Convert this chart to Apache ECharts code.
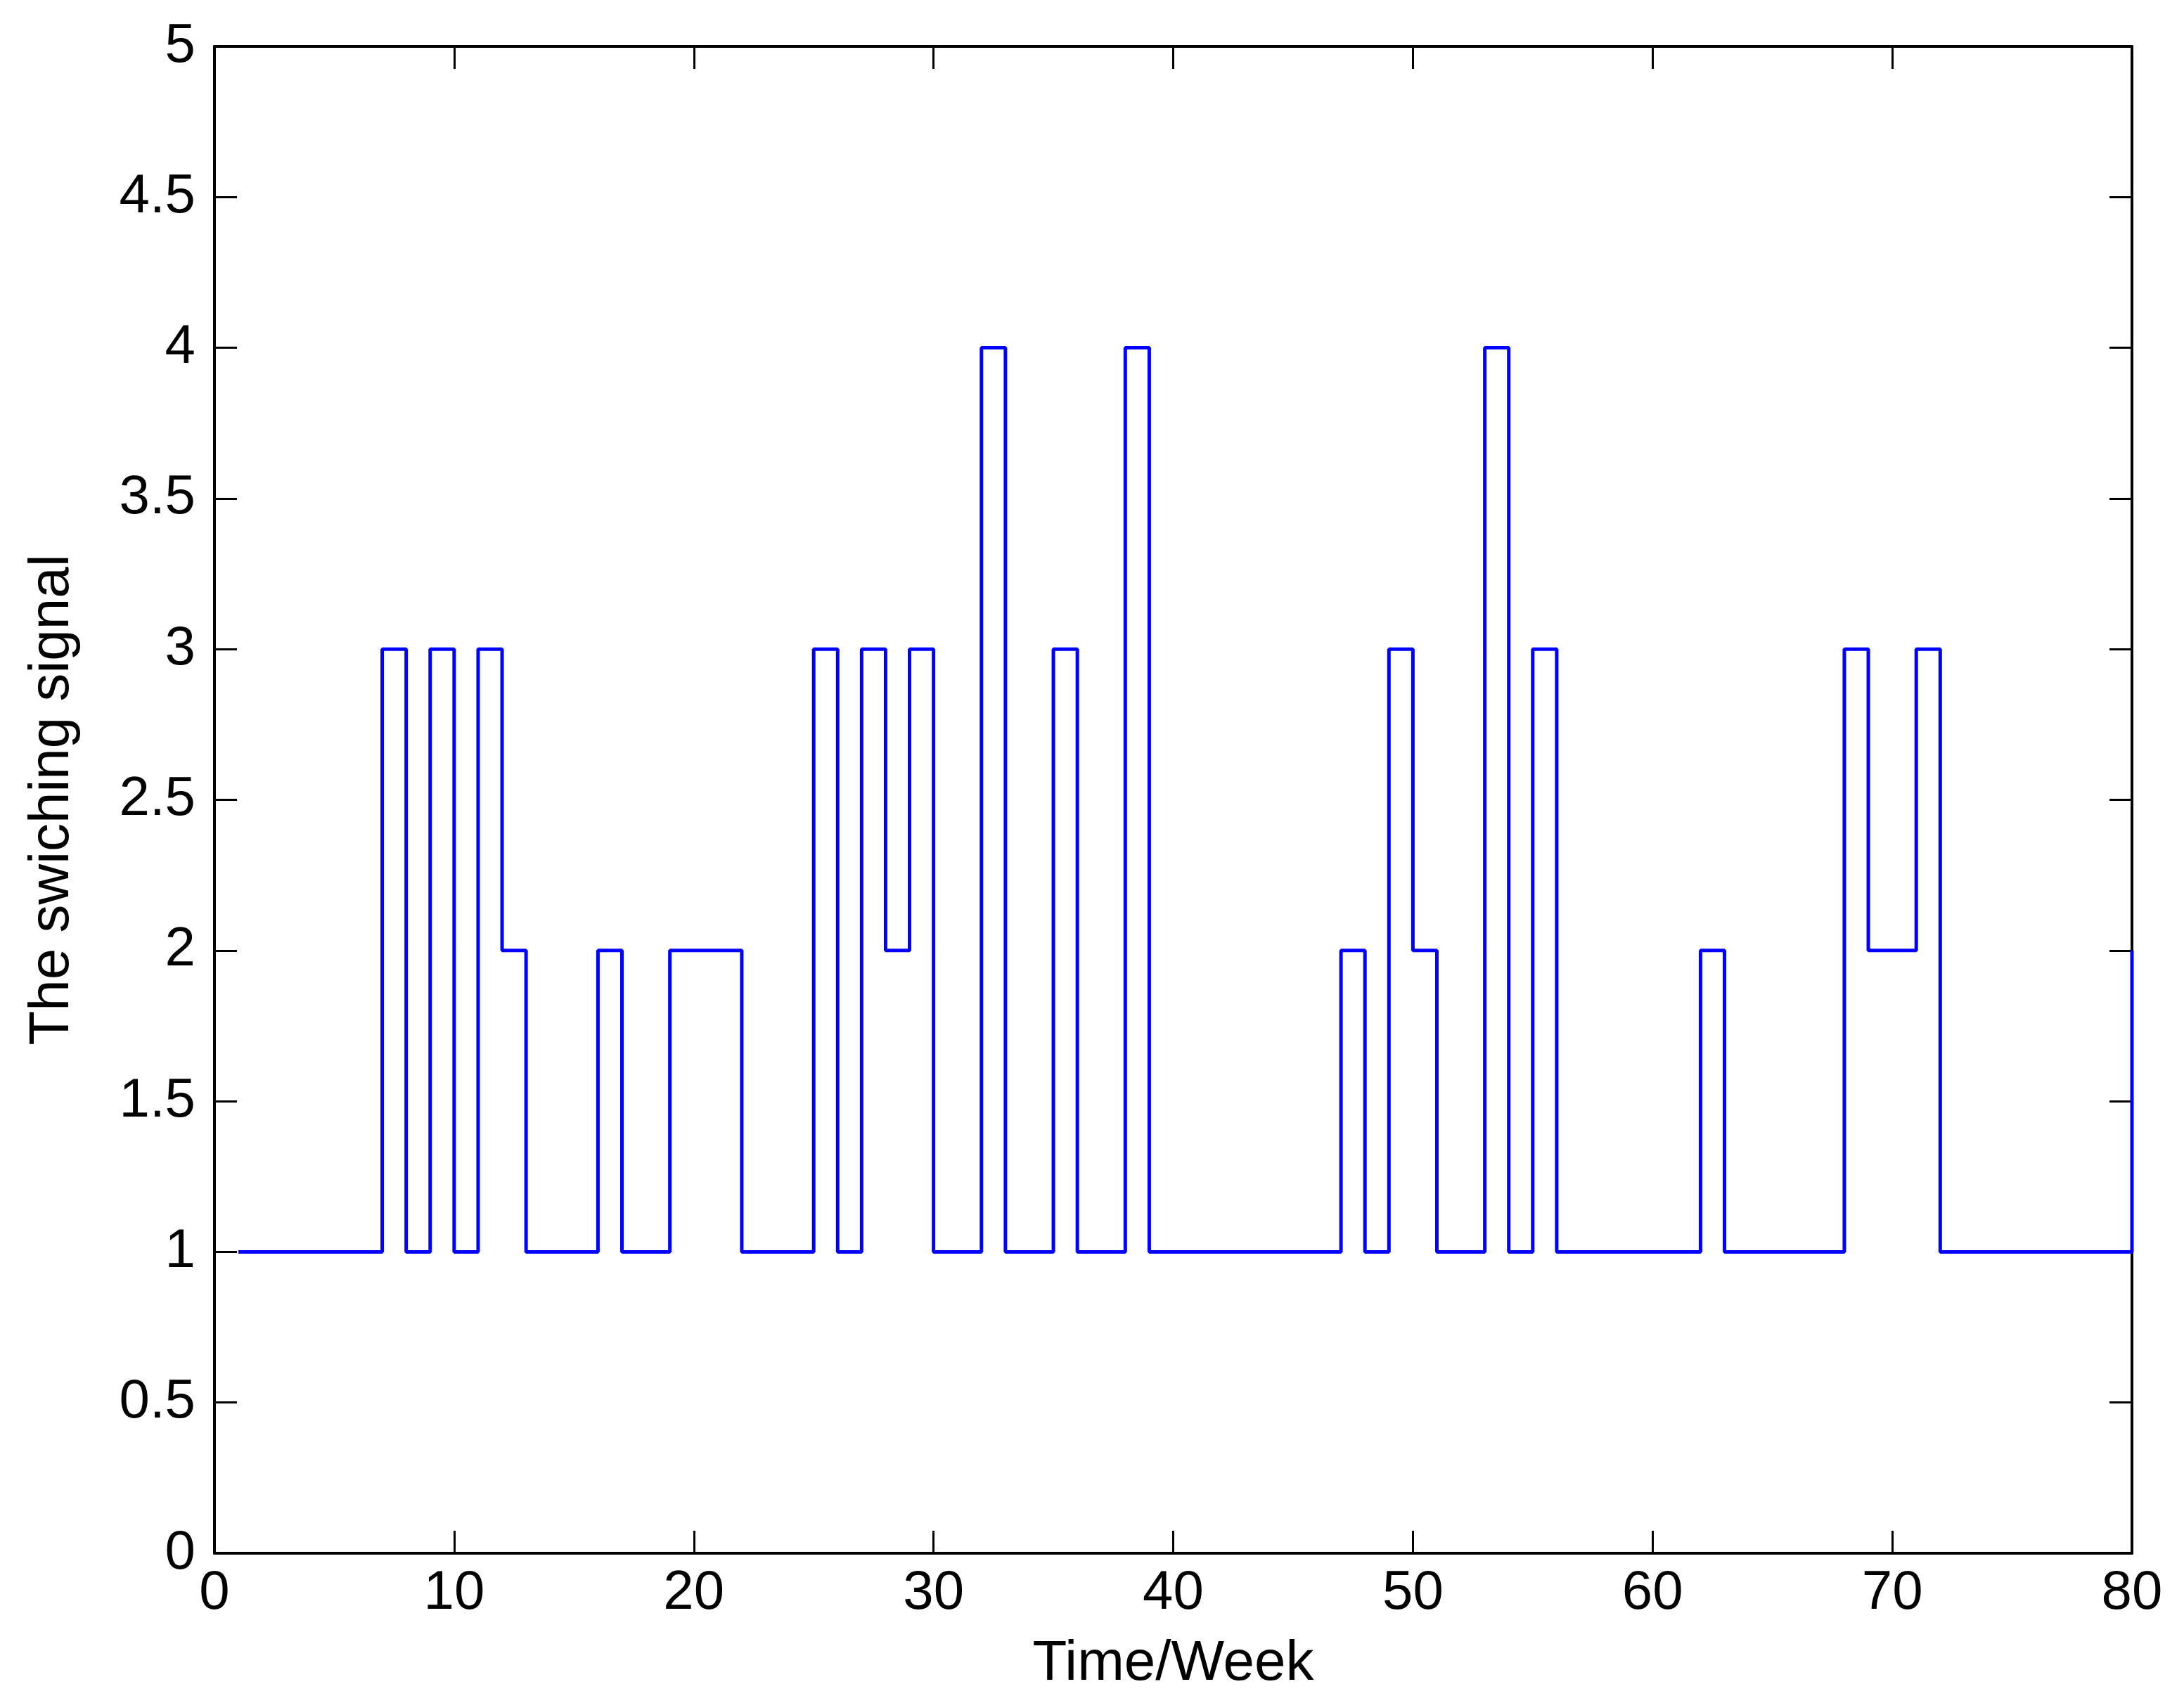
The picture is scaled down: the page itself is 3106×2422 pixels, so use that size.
<!DOCTYPE html>
<html>
<head>
<meta charset="utf-8">
<script src="https://cdn.jsdelivr.net/npm/echarts@6/dist/echarts.min.js"></script>
<style>
  html, body { margin: 0; padding: 0; background: #fff; }
  #chart { width: 3106px; height: 2422px; }
</style>
</head>
<body>
<div id="chart"></div>
<script>
// switching signal, one value per week (week 1 .. week 80)
const signal = [
  1, 1, 1, 1, 1, 1, 3, 1, 3, 1,
  3, 2, 1, 1, 1, 2, 1, 1, 2, 2,
  2, 1, 1, 1, 3, 1, 3, 2, 3, 1,
  1, 4, 1, 1, 3, 1, 1, 4, 1, 1,
  1, 1, 1, 1, 1, 1, 2, 1, 3, 2,
  1, 1, 4, 1, 3, 1, 1, 1, 1, 1,
  1, 2, 1, 1, 1, 1, 1, 3, 2, 2,
  3, 1, 1, 1, 1, 1, 1, 1, 1, 2
];
const firstWeek = 1;
const xTicks = [0, 10, 20, 30, 40, 50, 60, 70, 80];
const yTicks = [0, 0.5, 1, 1.5, 2, 2.5, 3, 3.5, 4, 4.5, 5];

const font = '"Liberation Sans", Arial, sans-serif';
const lineCol = '#000';

let chart = echarts.init(document.getElementById('chart'));

const tickStyle = { inside: true, length: 32, lineStyle: { color: lineCol, width: 3 } };
const axisLine = { show: true, onZero: false, lineStyle: { color: lineCol, width: 4 } };

let option = {
  backgroundColor: '#fff',
  animation: false,
  grid: { left: 305, right: 74, top: 66, bottom: 213, containLabel: false },
  xAxis: [
    {
      type: 'value',
      position: 'bottom',
      min: xTicks[0],
      max: xTicks[xTicks.length - 1],
      interval: 10,
      name: 'Time/Week',
      nameLocation: 'middle',
      nameGap: 118,
      nameTextStyle: { fontFamily: font, fontSize: 80, color: lineCol },
      axisLine: axisLine,
      axisTick: tickStyle,
      axisLabel: { fontFamily: font, fontSize: 78, color: lineCol, margin: 18 },
      splitLine: { show: false }
    },
    {
      type: 'value',
      position: 'top',
      min: xTicks[0],
      max: xTicks[xTicks.length - 1],
      interval: 10,
      axisLine: axisLine,
      axisTick: tickStyle,
      axisLabel: { show: false },
      splitLine: { show: false }
    }
  ],
  yAxis: [
    {
      type: 'value',
      position: 'left',
      min: yTicks[0],
      max: yTicks[yTicks.length - 1],
      interval: 0.5,
      name: 'The swiching signal',
      nameLocation: 'middle',
      nameGap: 190,
      nameTextStyle: { fontFamily: font, fontSize: 80, color: lineCol },
      axisLine: axisLine,
      axisTick: tickStyle,
      axisLabel: { fontFamily: font, fontSize: 78, color: lineCol, margin: 27, padding: [0, 0, 24, 0] },
      splitLine: { show: false }
    },
    {
      type: 'value',
      position: 'right',
      min: yTicks[0],
      max: yTicks[yTicks.length - 1],
      interval: 0.5,
      axisLine: axisLine,
      axisTick: tickStyle,
      axisLabel: { show: false },
      splitLine: { show: false }
    }
  ],
  series: [
    {
      type: 'line',
      xAxisIndex: 0,
      yAxisIndex: 0,
      step: 'end',
      showSymbol: false,
      symbol: 'none',
      lineStyle: { color: '#0000ff', width: 5 },
      data: signal.map((v, i) => [firstWeek + i, v])
    }
  ]
};
chart.setOption(option);
</script>
</body>
</html>
